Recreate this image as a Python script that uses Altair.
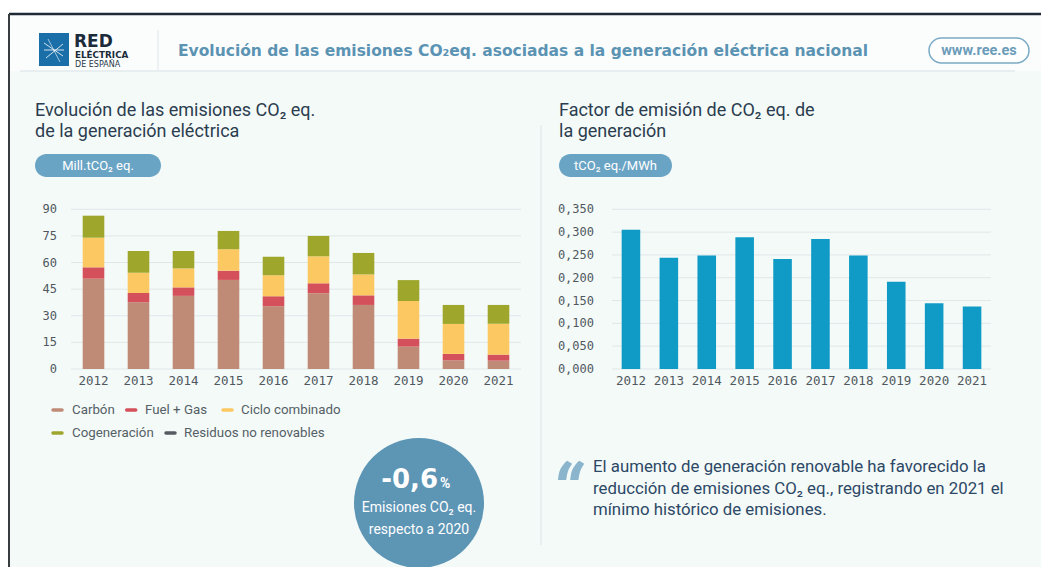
import altair as alt
import pandas as pd

# ---------------- data ----------------
years = ["2012", "2013", "2014", "2015", "2016", "2017", "2018", "2019", "2020", "2021"]
sources = ["Carbón", "Fuel + Gas", "Ciclo combinado", "Cogeneración", "Residuos no renovables"]
carbon = [50.9, 37.6, 41.2, 50.2, 35.3, 42.7, 36.1, 12.6, 4.9, 4.7]
fuel_gas = [6.4, 5.2, 4.8, 5.2, 5.7, 5.6, 5.4, 4.5, 3.6, 3.4]
ciclo = [16.7, 11.5, 10.7, 12.1, 11.8, 15.2, 11.8, 21.2, 16.9, 17.4]
cogen = [12.4, 12.2, 9.8, 10.3, 10.5, 11.5, 12.1, 11.8, 10.7, 10.6]
residuos = [0.0, 0.0, 0.0, 0.0, 0.0, 0.0, 0.0, 0.0, 0.0, 0.0]
factor = [0.305, 0.244, 0.249, 0.289, 0.241, 0.285, 0.249, 0.191, 0.144, 0.137]

left_ticks = [0, 15, 30, 45, 60, 75, 90]
left_tick_labels = ["0", "15", "30", "45", "60", "75", "90"]
right_ticks = [0.0, 0.05, 0.10, 0.15, 0.20, 0.25, 0.30, 0.35]
right_tick_labels = ["0,000", "0,050", "0,100", "0,150", "0,200", "0,250", "0,300", "0,350"]

source_colors = ["#bf8b76", "#d4505a", "#fcc861", "#9ea72b", "#555b60"]
FONT = "Roboto"
TICKFONT = "DejaVu Sans Mono"
WIDE = "DejaVu Sans"

# ---------------- helpers ----------------
one = pd.DataFrame({"a": [0]})


def txt(s, x, y, **kw):
    kw.setdefault("font", FONT)
    return alt.Chart(pd.DataFrame({"t": [s]})).mark_text(**kw).encode(
        x=alt.value(x), y=alt.value(y), text="t:N")


def rect(x, x2, y, y2, **kw):
    return alt.Chart(one).mark_rect(**kw).encode(
        x=alt.value(x), x2=alt.value(x2), y=alt.value(y), y2=alt.value(y2))


def rule(x, x2, y, y2, **kw):
    return alt.Chart(one).mark_rule(**kw).encode(
        x=alt.value(x), x2=alt.value(x2), y=alt.value(y), y2=alt.value(y2))


# ---------------- left panel ----------------
rows = []
for i, (name, vals) in enumerate(zip(sources, [carbon, fuel_gas, ciclo, cogen, residuos])):
    for y, v in zip(years, vals):
        rows.append({"year": y, "fuente": name, "value": v, "idx": i})
df_left = pd.DataFrame(rows)

lx = alt.Scale(domain=years, range=[63, 513], paddingInner=0.52, paddingOuter=0.26)
ly = alt.Scale(domain=[0, 90], range=[361, 201.3], nice=False, zero=True)

df_lt = pd.DataFrame({"v": left_ticks, "lab": left_tick_labels})
left_grid = alt.Chart(df_lt).mark_rule(color="#e0e7e9", strokeWidth=1).encode(
    y=alt.Y("v:Q", scale=ly, axis=None), x=alt.value(63), x2=alt.value(513))
left_ylab = alt.Chart(df_lt).mark_text(align="right", baseline="middle", font=TICKFONT,
                                       fontSize=12, color="#50585e").encode(
    y=alt.Y("v:Q", scale=ly, axis=None), x=alt.value(49), text="lab:N")
left_bars = alt.Chart(df_left).mark_bar().encode(
    x=alt.X("year:N", scale=lx, axis=None),
    y=alt.Y("value:Q", stack="zero", scale=ly, axis=None),
    color=alt.Color("fuente:N", scale=alt.Scale(domain=sources, range=source_colors), legend=None),
    order=alt.Order("idx:Q", sort="ascending"),
)
df_years = pd.DataFrame({"year": years})
left_xlab = alt.Chart(df_years).mark_text(baseline="middle", font=TICKFONT, fontSize=12.5,
                                          color="#50585e").encode(
    x=alt.X("year:N", scale=lx, axis=None), y=alt.value(373), text="year:N")
left_panel = alt.layer(left_grid, left_ylab, left_bars, left_xlab)

# ---------------- right panel ----------------
df_right = pd.DataFrame({"year": years, "factor": factor})
rx = alt.Scale(domain=years, range=[604, 983], paddingInner=0.51, paddingOuter=0.255)
ry = alt.Scale(domain=[0, 0.35], range=[361, 201.3], nice=False, zero=True)
df_rt = pd.DataFrame({"v": right_ticks, "lab": right_tick_labels})
right_grid = alt.Chart(df_rt).mark_rule(color="#e0e7e9", strokeWidth=1).encode(
    y=alt.Y("v:Q", scale=ry, axis=None), x=alt.value(604), x2=alt.value(983))
right_ylab = alt.Chart(df_rt).mark_text(align="right", baseline="middle", font=TICKFONT,
                                        fontSize=12, color="#50585e").encode(
    y=alt.Y("v:Q", scale=ry, axis=None), x=alt.value(586), text="lab:N")
right_bars = alt.Chart(df_right).mark_bar(color="#0f9bc6").encode(
    x=alt.X("year:N", scale=rx, axis=None),
    y=alt.Y("factor:Q", scale=ry, axis=None))
right_xlab = alt.Chart(df_years).mark_text(baseline="middle", font=TICKFONT, fontSize=12.5,
                                           color="#50585e").encode(
    x=alt.X("year:N", scale=rx, axis=None), y=alt.value(373), text="year:N")
right_panel = alt.layer(right_grid, right_ylab, right_bars, right_xlab)

# ---------------- decorations ----------------
deco_back = [
    rect(1, 1033, 6, 559, color="#f4faf8"),
    rect(1, 1033, 6, 63, color="#fbfdfd"),
    rule(12, 1007, 63, 63, color="#e3eaed", strokeWidth=1.5),
    rule(1, 1033, 6, 6, color="#1f2a36", strokeWidth=2.5),
    rule(1, 1, 6, 559, color="#3a3d40", strokeWidth=2),
    # logo
    rect(31, 61, 25, 58, color="#1b6fa8"),
    rule(36, 55, 35, 48, color="white", strokeWidth=1, opacity=0.8),
    rule(36, 56, 42, 42, color="white", strokeWidth=1, opacity=0.8),
    rule(38, 55, 50, 36, color="white", strokeWidth=1, opacity=0.8),
    rule(40, 52, 31, 54, color="white", strokeWidth=1, opacity=0.6),
    txt("RED", 66, 38.5, align="left", baseline="alphabetic", font=WIDE, fontSize=17,
        fontWeight="bold", color="#1c2b3a"),
    txt("ELÉCTRICA", 67, 46.5, align="left", baseline="middle", font=WIDE, fontSize=8.8,
        fontWeight="bold", color="#1c2b3a"),
    txt("DE ESPAÑA", 67, 56.5, align="left", baseline="middle", font=WIDE, fontSize=8,
        color="#2a3a48"),
    rule(150, 150, 22, 62, color="#dfe6ea", strokeWidth=1),
    txt("Evolución de las emisiones CO₂eq. asociadas a la generación eléctrica nacional",
        170, 43, align="left", baseline="middle", font=WIDE, fontSize=15.5, fontWeight="bold",
        color="#5b93b3"),
    # www pill
    rect(921, 1021, 30, 55, color="white", stroke="#7aaac5", strokeWidth=1.5, cornerRadius=12.5),
    txt("www.ree.es", 971, 42.5, baseline="middle", fontSize=14.5, fontWeight="bold", color="#6b9cb9"),
    # panel titles
    txt("Evolución de las emisiones CO₂ eq.", 27, 103, align="left", baseline="middle", fontSize=18, color="#2b3d4f"),
    txt("de la generación eléctrica", 27, 124, align="left", baseline="middle", fontSize=18, color="#2b3d4f"),
    rect(27, 153, 146, 169, color="#6aa4c5", cornerRadius=11.5),
    txt("Mill.tCO₂ eq.", 90, 157.5, baseline="middle", fontSize=13, color="white"),
    txt("Factor de emisión de CO₂ eq. de", 551, 103, align="left", baseline="middle", fontSize=18, color="#2b3d4f"),
    txt("la generación", 551, 124, align="left", baseline="middle", fontSize=18, color="#2b3d4f"),
    rect(551, 664, 146, 169, color="#6aa4c5", cornerRadius=11.5),
    txt("tCO₂ eq./MWh", 607.5, 157.5, baseline="middle", fontSize=13, color="white"),
    # divider
    rule(533, 533, 117, 537, color="#dfe5e8", strokeWidth=1),
]

legend_layers = []
legend_pos = [(45, 64, 402), (118.7, 137, 402), (215, 233, 402), (45, 64, 425), (158, 176, 425)]
for name, col, (sx, lxp, yy) in zip(sources, source_colors, legend_pos):
    legend_layers.append(rule(sx, sx + 9, yy, yy, color=col, strokeWidth=3.5, strokeCap="round"))
    legend_layers.append(txt(name, lxp, yy, align="left", baseline="middle", fontSize=13.3, color="#555f66"))

deco_front = [
    alt.Chart(one).mark_circle(size=16900, color="#5d95b5", opacity=1).encode(
        x=alt.value(411), y=alt.value(495)),
    txt("-0,6", 430, 472, align="right", baseline="middle", font=WIDE, fontSize=26,
        fontWeight="bold", color="white"),
    txt("%", 432, 476, align="left", baseline="middle", fontSize=14, fontWeight="bold", color="white"),
    txt("Emisiones CO₂ eq.", 411, 500, baseline="middle", fontSize=14, color="white"),
    txt("respecto a 2020", 411, 522, baseline="middle", fontSize=14, color="white"),
    # quote
    txt("“", 543, 511, align="left", baseline="alphabetic", fontSize=76, fontWeight="bold",
        fontStyle="italic", color="#8ab5cd"),
    txt("El aumento de generación renovable ha favorecido la", 585, 459, align="left",
        baseline="middle", fontSize=16.8, color="#2c4866"),
    txt("reducción de emisiones CO₂ eq., registrando en 2021 el", 585, 481, align="left",
        baseline="middle", fontSize=16.8, color="#2c4866"),
    txt("mínimo histórico de emisiones.", 585, 502, align="left",
        baseline="middle", fontSize=16.8, color="#2c4866"),
]

chart = alt.layer(*deco_back, left_panel, right_panel, *legend_layers, *deco_front).resolve_scale(
    x="independent", y="independent", color="independent"
).properties(
    width=1033, height=559, autosize="none", padding=0, background="white"
).configure_view(stroke=None)

chart.save("out.html", embed_options={"renderer": "svg", "actions": False})
